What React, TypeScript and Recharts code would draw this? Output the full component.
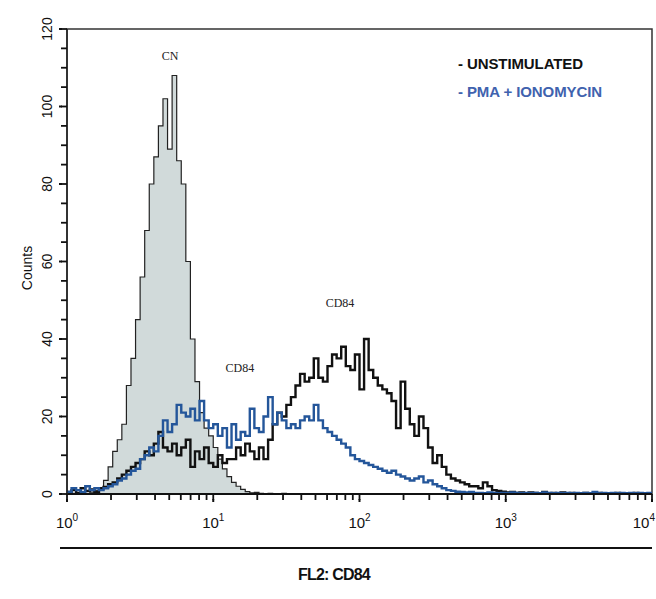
import {
  ComposedChart,
  Area,
  Line,
  XAxis,
  YAxis,
  ReferenceArea,
  ReferenceDot,
} from "recharts";

// 128 log-spaced channels, 32 per decade, from 10^0 to 10^4
const BINS_PER_DECADE = 32;

const controlCN = [
  0, 0.2, 0, 0.3, 0.2, 0.5, 0.8, 1.5, 3.5, 7,
  11, 14, 18, 28, 35, 45, 56, 68, 80, 87,
  95, 102, 89, 108, 86, 80, 60, 40, 29, 21,
  17, 15, 12, 9, 6.5, 4.5, 3, 2, 1.2, 0.6,
  0.3, 0.4, 0.2, 0, 0.2, 0, 0, 0.2, 0, 0,
  0, 0, 0, 0, 0, 0, 0, 0, 0, 0,
  0, 0, 0, 0, 0, 0, 0, 0, 0, 0,
  0, 0, 0, 0, 0, 0, 0, 0, 0, 0,
  0, 0, 0, 0, 0, 0, 0, 0, 0, 0,
  0, 0, 0, 0, 0, 0, 0, 0, 0, 0,
  0, 0, 0, 0, 0, 0, 0, 0, 0, 0,
  0, 0, 0, 0, 0, 0, 0, 0, 0, 0,
  0, 0, 0, 0, 0, 0, 0, 0,
];

const unstimulated = [
  0.5, 1, 0.3, 1.5, 0.8, 1.2, 0.6, 1.5, 1.8, 2.5,
  3, 4, 5, 6, 7, 8, 9, 11, 10, 13,
  16, 12, 11, 13, 10, 12, 14, 7, 11, 9,
  12, 8, 7, 10, 8, 9, 9, 12, 10, 13,
  11, 9, 12, 9, 14, 18, 21, 20, 23, 25,
  28, 31, 29, 30, 35, 30, 29, 33, 36, 35,
  38, 33, 32, 36, 27, 40, 32, 30, 28, 27,
  26, 24, 17, 29, 22, 18, 15, 20, 17, 12,
  8, 10, 7, 5, 4, 3.5, 3, 2.5, 2, 2,
  1.5, 3, 2, 1, 0.8, 0.6, 0.4, 0.5, 0.3, 0.4,
  0.2, 0.4, 0.3, 0.2, 0.5, 0.2, 0.3, 0.2, 0.4, 0.2,
  0.3, 0.2, 0.2, 0.3, 0.2, 0.2, 0.3, 0.2, 0.2, 0.2,
  0.3, 0.2, 0.2, 0.2, 0.3, 0.2, 0.2, 0.2,
];

const pmaIonomycin = [
  0.5, 1.5, 1, 0.5, 2, 1, 1.5, 1, 1.5, 2,
  2.5, 3.5, 4, 5, 6, 6.5, 9, 10, 12, 11,
  15, 19, 16, 18, 23, 21, 20, 22, 19, 24,
  19, 17, 18, 15, 17, 12, 18, 14, 16, 15,
  22, 17, 16, 20, 25, 18, 21, 19, 17, 18,
  17, 19, 20, 19, 23, 19, 17, 16, 15, 14,
  13, 12, 10, 9, 8.5, 8, 7.5, 7, 6.5, 6,
  5.5, 6, 5, 4.5, 4, 3.5, 4, 4.5, 3, 3.5,
  2.5, 2, 1.5, 1, 0.8, 0.6, 0.5, 0.4, 0.5, 0.3,
  0.3, 0.2, 0.4, 0.3, 0.2, 0.3, 0.2, 0.4, 0.3, 0.2,
  0.3, 0.2, 0.3, 0.2, 0.4, 0.3, 0.2, 0.3, 0.2, 0.3,
  0.2, 0.3, 0.2, 0.3, 0.2, 0.5, 0.2, 0.3, 0.2, 0.3,
  0.2, 0.3, 0.2, 0.3, 0.2, 0.3, 0.2, 0.3,
];

const decadeTicks = [1, 10, 100, 1000, 10000];
const minorSteps = [2, 3, 4, 5, 6, 7, 8, 9];
const yTicks = [
  0, 5, 10, 15, 20, 25, 30, 35, 40, 45, 50, 55, 60,
  65, 70, 75, 80, 85, 90, 95, 100, 105, 110, 115, 120,
];
const yLabelTicks = [0, 20, 40, 60, 80, 100, 120];

const xTicks = [
  ...decadeTicks.slice(0, -1).flatMap((d) => [d, ...minorSteps.map((m) => m * d)]),
  10000,
];

const data = controlCN.map((cn, i) => ({
  fl: 10 ** (i / BINS_PER_DECADE),
  cn,
  unstim: unstimulated[i],
  pma: pmaIonomycin[i],
}));
data.push({
  fl: 10000,
  cn: controlCN[controlCN.length - 1],
  unstim: unstimulated[unstimulated.length - 1],
  pma: pmaIonomycin[pmaIonomycin.length - 1],
});

const BLUE = "#24569a";
const SANS = "'Liberation Sans', Arial, sans-serif";
const SERIF = "'Liberation Serif', 'Times New Roman', serif";
const TICK = 6;

// tick props arrive already offset by TICK from the axis line
function XTick(props: any) {
  const x = Number(props.x);
  const y = Number(props.y);
  const v = props.payload.value;
  const exp = decadeTicks.indexOf(v);
  if (exp < 0) return <g />;
  const last = exp === decadeTicks.length - 1;
  return (
    <g>
      <path d={`M${x},${y - 1}v3`} stroke="#111" strokeWidth={2} fill="none" />
      <text
        x={last ? 655 : x}
        y={y + 28}
        textAnchor={last ? "end" : "middle"}
        fontSize={15}
        fill="#111"
        fontFamily={SANS}
      >
        <tspan>10</tspan>
        <tspan dy={-7} fontSize={10}>{exp}</tspan>
      </text>
    </g>
  );
}

function YTick(props: any) {
  const x = Number(props.x);
  const y = Number(props.y);
  const v = props.payload.value;
  if (!yLabelTicks.includes(v)) return <g />;
  return (
    <g>
      <path d={`M${x + 1},${y}h-3`} stroke="#111" strokeWidth={2} fill="none" />
      <text
        transform={`translate(${x - 9},${y}) rotate(-90)`}
        textAnchor="middle"
        fontSize={14}
        fill="#111"
        fontFamily={SANS}
      >
        {v}
      </text>
    </g>
  );
}

const noteLabel = (value: string) => ({
  value,
  position: "center" as const,
  fontSize: 12,
  fill: "#222",
  fontFamily: SERIF,
});

export default function App() {
  return (
    <div
      style={{
        position: "absolute",
        left: 0,
        top: 0,
        width: 656,
        height: 599,
        background: "#fff",
        fontFamily: SANS,
        overflow: "hidden",
      }}
    >
      <ComposedChart
        width={656}
        height={599}
        data={data}
        margin={{ top: 29, right: 4, bottom: 65, left: 0 }}
      >
        <XAxis
          dataKey="fl"
          type="number"
          scale="log"
          domain={[1, 10000]}
          ticks={xTicks}
          interval={0}
          allowDataOverflow
          height={40}
          tickSize={TICK}
          tickMargin={0}
          tickLine={{ stroke: "#111", strokeWidth: 1.8 }}
          tick={<XTick />}
          axisLine={{ stroke: "#111", strokeWidth: 2 }}
        />
        <YAxis
          type="number"
          domain={[0, 120]}
          ticks={yTicks}
          interval={0}
          width={67}
          tickSize={TICK}
          tickMargin={0}
          tickLine={{ stroke: "#111", strokeWidth: 1.8 }}
          tick={<YTick />}
          axisLine={{ stroke: "#222", strokeWidth: 1.5 }}
        />
        <ReferenceArea
          x1={1}
          x2={10000}
          y1={0}
          y2={120}
          fill="none"
          stroke="#333"
          strokeWidth={1.5}
        />
        <Area
          type="stepAfter"
          dataKey="cn"
          fill="#d1dada"
          fillOpacity={1}
          stroke="#222"
          strokeWidth={1.2}
          dot={false}
          activeDot={false}
          isAnimationActive={false}
        />
        <Line
          type="stepAfter"
          dataKey="unstim"
          stroke="#111"
          strokeWidth={2.4}
          dot={false}
          activeDot={false}
          isAnimationActive={false}
        />
        <Line
          type="stepAfter"
          dataKey="pma"
          stroke={BLUE}
          strokeWidth={2.4}
          dot={false}
          activeDot={false}
          isAnimationActive={false}
        />
        <ReferenceDot x={5.06} y={113} r={0} stroke="none" label={noteLabel("CN")} />
        <ReferenceDot x={15.2} y={32.5} r={0} stroke="none" label={noteLabel("CD84")} />
        <ReferenceDot x={73.6} y={49.3} r={0} stroke="none" label={noteLabel("CD84")} />
      </ComposedChart>

      {/* legend */}
      <div
        style={{
          position: "absolute",
          left: 458,
          top: 50,
          fontSize: 15,
          lineHeight: "28px",
          letterSpacing: -0.1,
          fontWeight: 600,
        }}
      >
        <div style={{ color: "#111" }}>- UNSTIMULATED</div>
        <div style={{ color: "#4062ae" }}>- PMA + IONOMYCIN</div>
      </div>

      {/* y axis title */}
      <div
        style={{
          position: "absolute",
          left: 27,
          top: 268,
          transform: "translate(-50%, -50%) rotate(-90deg)",
          fontSize: 14,
          color: "#111",
          whiteSpace: "nowrap",
        }}
      >
        Counts
      </div>

      {/* rule and x axis title */}
      <div
        style={{
          position: "absolute",
          left: 60,
          top: 547,
          width: 592,
          height: 2,
          background: "#111",
        }}
      />
      <div
        style={{
          position: "absolute",
          left: 334,
          top: 575,
          transform: "translate(-50%, -50%)",
          fontSize: 16,
          fontWeight: 700,
          letterSpacing: -0.8,
          color: "#111",
          whiteSpace: "nowrap",
        }}
      >
        FL2: CD84
      </div>
    </div>
  );
}
